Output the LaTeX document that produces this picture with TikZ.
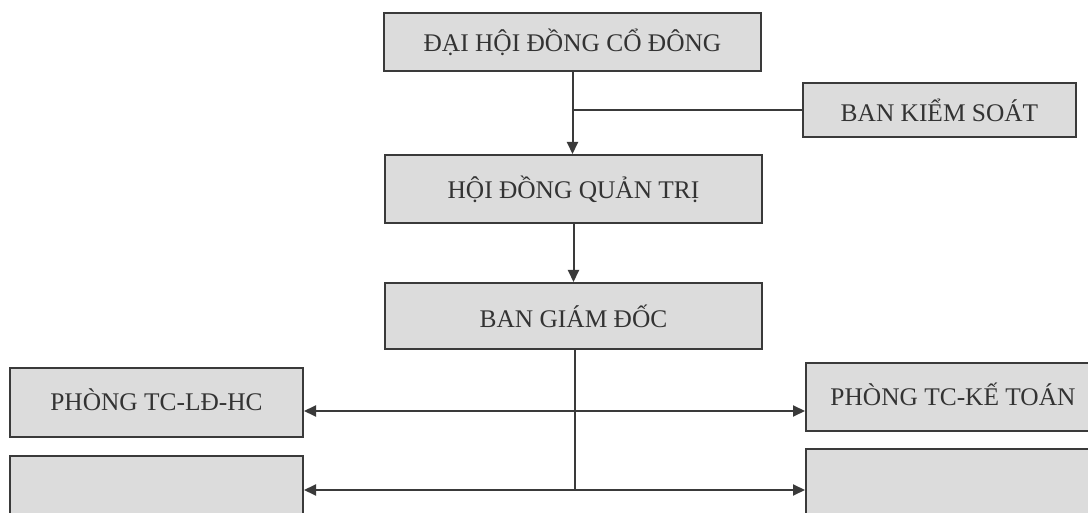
\documentclass[tikz,border=0pt]{standalone}
\usepackage{fontspec}
\setmainfont{Liberation Serif}
\usetikzlibrary{arrows.meta}
\definecolor{boxfill}{HTML}{DCDCDC}
\definecolor{ink}{HTML}{3A3A3A}
\definecolor{txt}{HTML}{333333}
\begin{document}
\begin{tikzpicture}[x=0.5pt,y=-0.5pt,
  box/.style={draw=ink, fill=boxfill, line width=1pt, inner sep=0pt, text=txt,
    font=\fontsize{12.7}{14}\selectfont},
  conn/.style={draw=ink, line width=1pt},
  arr/.style={conn, -{Triangle[length=6pt,width=5.5pt]}}]
\useasboundingbox (0,0) rectangle (1088,513);
\clip (0,0) rectangle (1088,513);
\fill[white] (0,0) rectangle (1088,513);
\node[box, minimum width=188.5pt, minimum height=29pt] (dh) at (572.5,42) {ĐẠI HỘI ĐỒNG CỔ ĐÔNG};
\node[box, minimum width=136.5pt, minimum height=27pt] (bks) at (939.5,110) {BAN KIỂM SOÁT};
\node[box, minimum width=188.5pt, minimum height=34pt] (hd) at (573.5,189) {HỘI ĐỒNG QUẢN TRỊ};
\node[box, minimum width=188.5pt, minimum height=33pt] (bgd) at (573.5,316) {BAN GIÁM ĐỐC};
\node[box, minimum width=146.5pt, minimum height=34.5pt] (l1) at (156.5,402.5) {\raisebox{3pt}{PHÒNG TC-LĐ-HC}};
\node[box, minimum width=146.5pt, minimum height=42pt] (l2) at (156.5,498) {};
\node[box, minimum width=147pt, minimum height=34pt] (r1) at (953,397) {\raisebox{3pt}{PHÒNG TC-KẾ TOÁN}};
\node[box, minimum width=147pt, minimum height=45pt] (r2) at (953,494) {};
\coordinate (k) at (dh.south |- bks.west);
\draw[conn] (k) -- (bks.west);
\draw[arr] (dh.south) -- (dh.south |- hd.north);
\draw[arr] (hd.south) -- (hd.south |- bgd.north);
\path (bgd.south) ++(1.5,61) coordinate (j1) ++(0,79) coordinate (j2);
\draw[conn] (bgd.south -| j1) -- (j2);
\draw[arr] (j1) -- (j1 -| l1.east);
\draw[arr] (j1) -- (j1 -| r1.west);
\draw[arr] (j2) -- (j2 -| l2.east);
\draw[arr] (j2) -- (j2 -| r2.west);
\end{tikzpicture}
\end{document}
